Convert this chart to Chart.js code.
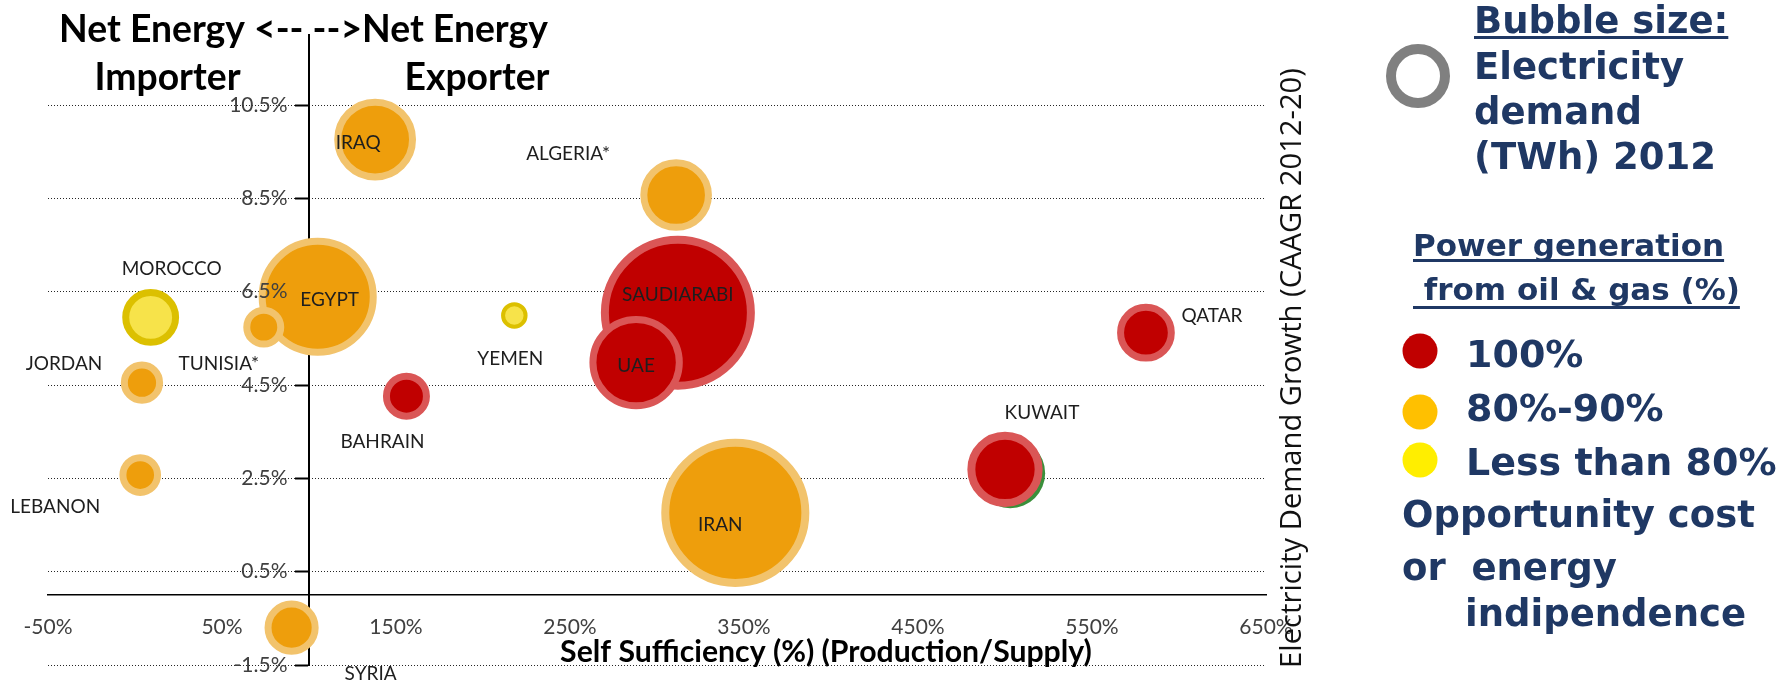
<!DOCTYPE html>
<html><head><meta charset="utf-8">
<script src="https://cdn.jsdelivr.net/npm/chart.js@4.4.1/dist/chart.umd.min.js"></script>
<style>html,body{margin:0;padding:0;background:#fff;overflow:hidden}canvas{display:block}</style>
</head><body>
<canvas id="c" width="1783" height="681"></canvas>
<script>
// ---- data ----
const countries      = ['IRAQ','ALGERIA*','EGYPT','TUNISIA*','MOROCCO','JORDAN','LEBANON','SYRIA','BAHRAIN','YEMEN','SAUDIARABI','UAE','IRAN','KUWAIT','QATAR',''];
const selfSufficiency = [138, 311, 105, 74, 9, 4, 3, 90, 156, 218, 312, 288, 345, 500, 581, 503];        // % (x)
const demandGrowth    = [9.76, 8.57, 6.39, 5.74, 5.95, 4.55, 2.57, -0.70, 4.26, 5.99, 6.05, 4.98, 1.76, 2.69, 5.62, 2.61]; // % CAAGR (y)
const demandTWh       = [63, 47, 139, 13, 28, 14, 13.5, 25, 18, 5.7, 240, 84, 221, 51, 29, 55];         // bubble size
const oilGasShare     = ['80-90','80-90','80-90','80-90','<80','80-90','80-90','80-90','100','<80','100','100','80-90','100','100','other'];
const xTickValues = [-50, 50, 150, 250, 350, 450, 550, 650];
const yTickValues = [-1.5, 0.5, 2.5, 4.5, 6.5, 8.5, 10.5];
const legendLabels = ['100%', '80%-90%', 'Less than 80%'];

// ---- styles ----
const FILL = {'100':'#C00000','80-90':'#EE9E0C','<80':'#F7E34A','other':'#3A8F3A'};
const EDGE = {'100':'#DA5656','80-90':'#F2C36C','<80':'#DCC000','other':'#3A8F3A'};
const LEGEND_COLORS = ['#C00000','#FFC000','#FFEE00'];
const EDGE_W = {'YEMEN':4,'SAUDIARABI':8,'IRAN':8,'KUWAIT':8,'':0};
const K = 4.712; // px per sqrt(TWh)
const LABEL_OFF = {'IRAQ':[-17,3],'ALGERIA*':[-108,-42],'EGYPT':[12,2],'TUNISIA*':[-45,36],'MOROCCO':[21,-49],
  'JORDAN':[-78,-20],'LEBANON':[-85,31],'SYRIA':[79,45],'BAHRAIN':[-24,45],'YEMEN':[-4,43],'SAUDIARABI':[0,-19],
  'UAE':[0,3],'IRAN':[-15,11],'KUWAIT':[37,-57],'QATAR':[66,-18]};
const NAVY = '#1F3864';
const TICK_FONT = {family: 'Lato', size: 21};

// y labels sit ~19px left of the crossing axis (Chart.js ignores padding for value-positioned axes)
const mctx = document.createElement('canvas').getContext('2d');
mctx.font = `${TICK_FONT.size}px Lato`;
const Y_GAP = '\u00A0'.repeat(Math.max(1, Math.round(19 / mctx.measureText('\u00A0').width)));

const order = countries.map((_, i) => i).sort((a, b) => demandTWh[b] - demandTWh[a]);
const points = order.map(i => ({x: selfSufficiency[i], y: demandGrowth[i], r: K * Math.sqrt(demandTWh[i]), idx: i}));
const edgeW = i => (countries[i] in EDGE_W) ? EDGE_W[countries[i]] : 7;

function fitSize(ctx, text, weight, family, target) {
  ctx.font = `${weight} 100px ${family}`;
  return 100 * target / ctx.measureText(text).width;
}
function txt(ctx, s, x, y, font, color, align, baseline) {
  ctx.font = font; ctx.fillStyle = color; ctx.textAlign = align || 'left'; ctx.textBaseline = baseline || 'alphabetic';
  ctx.fillText(s, x, y);
  return ctx.measureText(s).width;
}
function underline(ctx, x, y, w) {
  ctx.fillStyle = NAVY; ctx.fillRect(x, y, w, 3);
}

const annotate = {
  id: 'annotate',
  afterDraw(chart) {
    const ctx = chart.ctx, xs = chart.scales.x, ys = chart.scales.y;
    ctx.save();
    // country labels
    countries.forEach((c, i) => {
      if (!c) return;
      const o = LABEL_OFF[c];
      const px = xs.getPixelForValue(selfSufficiency[i]) + o[0];
      const py = ys.getPixelForValue(demandGrowth[i]) + o[1];
      txt(ctx, c, px, py + 0.36 * 19, '19px Lato', '#1e1e1e', 'center');
    });
    // header
    const h1 = 'Net Energy <-- -->Net Energy';
    const hs = fitSize(ctx, h1, 'bold', 'Lato', 489);
    txt(ctx, h1, 303.5, 42, `bold ${hs}px Lato`, '#000', 'center');
    txt(ctx, 'Importer', 167.5, 90, `bold ${hs}px Lato`, '#000', 'center');
    txt(ctx, 'Exporter', 477, 90, `bold ${hs}px Lato`, '#000', 'center');
    // x title
    const xt = 'Self Sufficiency (%) (Production/Supply)';
    const xsz = fitSize(ctx, xt, 'bold', 'Lato', 532);
    txt(ctx, xt, 826, 662, `bold ${xsz}px Lato`, '#000', 'center');
    // y title
    const yt = 'Electricity Demand Growth (CAAGR 2012-20)';
    const ysz = fitSize(ctx, yt, 'normal', '"Open Sans"', 600);
    ctx.save(); ctx.translate(1293, 368); ctx.rotate(-Math.PI / 2);
    txt(ctx, yt, 0, 0, `${ysz}px "Open Sans"`, '#111', 'center', 'middle');
    ctx.restore();
    // legend
    const F = '"DejaVu Sans"';
    ctx.beginPath(); ctx.arc(1418, 76, 27, 0, 2 * Math.PI); ctx.lineWidth = 10; ctx.strokeStyle = '#808080'; ctx.stroke();
    let w = txt(ctx, 'Bubble size:', 1474, 33, `bold 37px ${F}`, NAVY);
    underline(ctx, 1474, 36, w);
    txt(ctx, 'Electricity', 1474, 79, `bold 37px ${F}`, NAVY);
    txt(ctx, 'demand', 1474, 124, `bold 37px ${F}`, NAVY);
    txt(ctx, '(TWh) 2012', 1474, 169, `bold 37px ${F}`, NAVY);
    w = txt(ctx, 'Power generation', 1413, 256, `bold 31px ${F}`, NAVY);
    underline(ctx, 1413, 259, w);
    w = txt(ctx, ' from oil & gas (%)', 1413, 300, `bold 31px ${F}`, NAVY);
    underline(ctx, 1413, 306, w);
    const ly = [351, 412, 460], lb = [367, 421, 475];
    legendLabels.forEach((l, i) => {
      ctx.beginPath(); ctx.arc(1420, ly[i], 17.5, 0, 2 * Math.PI); ctx.fillStyle = LEGEND_COLORS[i]; ctx.fill();
      txt(ctx, l, 1466, lb[i], `bold 38px ${F}`, NAVY);
    });
    txt(ctx, 'Opportunity cost', 1402, 527, `bold 37px ${F}`, NAVY);
    txt(ctx, 'or  energy', 1402, 580, `bold 37px ${F}`, NAVY);
    txt(ctx, 'indipendence', 1465, 626, `bold 37px ${F}`, NAVY);
    ctx.restore();
  }
};

new Chart(document.getElementById('c'), {
  type: 'bubble',
  data: {datasets: [{
    data: points,
    backgroundColor: points.map(p => FILL[oilGasShare[p.idx]]),
    borderColor: points.map(p => EDGE[oilGasShare[p.idx]]),
    borderWidth: points.map(p => edgeW(p.idx)),
    hoverBorderWidth: points.map(p => edgeW(p.idx)),
    hoverRadius: 0,
    clip: false
  }]},
  options: {
    responsive: false, animation: false, events: [],
    layout: {autoPadding: false, padding: {left: 48, top: 35, right: 517, bottom: 16}},
    plugins: {legend: {display: false}, tooltip: {enabled: false}},
    scales: {
      x: {type: 'linear', min: -50, max: 650, position: {y: 0},
        grid: {display: false, drawTicks: false},
        border: {display: true, color: '#000', width: 1.5},
        afterBuildTicks: s => { s.ticks = xTickValues.map(v => ({value: v})); },
        ticks: {autoSkip: false, maxRotation: 0, padding: 20, color: '#404040', font: TICK_FONT, callback: v => v + '%'}},
      y: {type: 'linear', min: -1.5, max: 12, position: {x: 100},
        grid: {display: true, color: '#262626', lineWidth: 1, drawTicks: true, tickLength: 13, tickColor: '#000', tickWidth: 2},
        border: {display: true, color: '#000', width: 2, dash: [1, 2]},
        afterBuildTicks: s => { s.ticks = yTickValues.map(v => ({value: v})); },
        ticks: {z: 1, autoSkip: false, color: '#404040', font: TICK_FONT, callback: v => v + '%' + Y_GAP}}
    }
  },
  plugins: [annotate]
});
</script>
</body></html>
